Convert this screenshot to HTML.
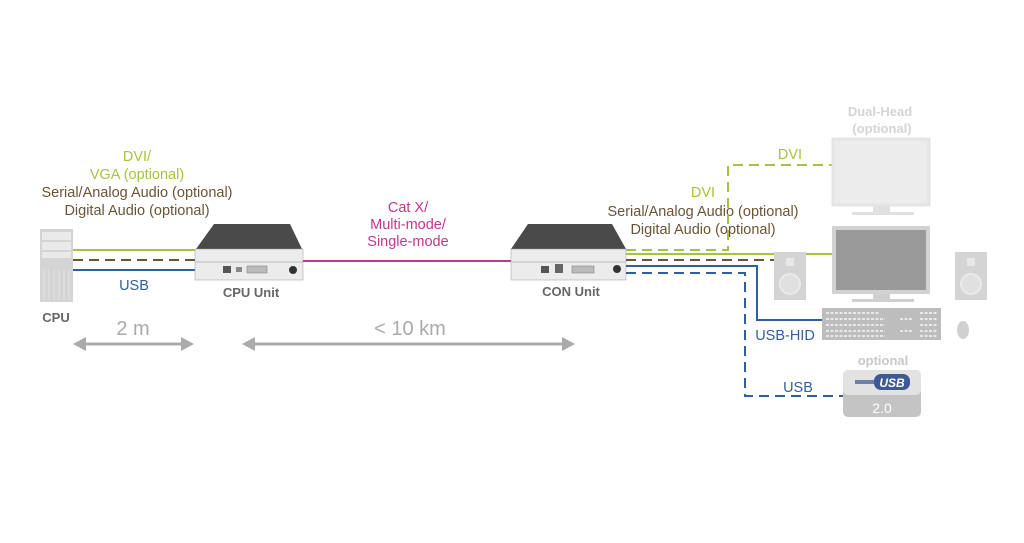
<!DOCTYPE html>
<html><head><meta charset="utf-8"><style>
html,body{margin:0;padding:0;background:#fff;}
svg{display:block;}
text{font-family:"Liberation Sans",sans-serif;}
</style></head><body>
<svg width="1024" height="543" viewBox="0 0 1024 543" xmlns="http://www.w3.org/2000/svg">
<g font-size="14.5" text-anchor="middle">
<text x="137" y="161" fill="#a4c43a">DVI/</text>
<text x="137" y="179" fill="#a4c43a">VGA (optional)</text>
<text x="137" y="197" fill="#6b5434">Serial/Analog Audio (optional)</text>
<text x="137" y="215" fill="#6b5434">Digital Audio (optional)</text>
<text x="408" y="212" fill="#c0378f">Cat X/</text>
<text x="408" y="229" fill="#c0378f">Multi-mode/</text>
<text x="408" y="246" fill="#c0378f">Single-mode</text>
<text x="703" y="197" fill="#a4c43a">DVI</text>
<text x="790" y="159" fill="#a4c43a">DVI</text>
<text x="703" y="216" fill="#6b5434">Serial/Analog Audio (optional)</text>
<text x="703" y="234" fill="#6b5434">Digital Audio (optional)</text>
<text x="134" y="290" fill="#2f5f9e">USB</text>
<text x="785" y="340" fill="#2f5f9e">USB-HID</text>
<text x="798" y="392" fill="#2f5f9e">USB</text>
</g>
<rect x="40" y="229" width="33" height="73" fill="#d4d4d4"/>
<g fill="#eaeaea"><rect x="42" y="232" width="29" height="8"/><rect x="42" y="242" width="29" height="8"/><rect x="42" y="252" width="29" height="6"/></g>
<g stroke="#e4e4e4" stroke-width="1">
<line x1="44" y1="270" x2="44" y2="300"/><line x1="49" y1="270" x2="49" y2="300"/><line x1="54" y1="270" x2="54" y2="300"/><line x1="59" y1="270" x2="59" y2="300"/><line x1="64" y1="270" x2="64" y2="300"/><line x1="69" y1="270" x2="69" y2="300"/></g>
<text x="56" y="322" font-size="13" font-weight="bold" fill="#666" text-anchor="middle">CPU</text>
<line x1="73" y1="250" x2="196" y2="250" stroke="#a4c43a" stroke-width="2"/>
<line x1="73" y1="260" x2="196" y2="260" stroke="#6b5434" stroke-width="2" stroke-dasharray="10,6"/>
<line x1="73" y1="270" x2="196" y2="270" stroke="#2f5f9e" stroke-width="2"/>
<polygon points="214,224 290,224 302,249 196,249" fill="#4a4a4a"/>
<rect x="195" y="249" width="108" height="31" fill="#ececec" stroke="#999" stroke-width="0.5"/>
<line x1="195" y1="262" x2="303" y2="262" stroke="#bbb"/>
<rect x="223" y="266" width="8" height="7" fill="#555"/><rect x="236" y="267" width="6" height="5" fill="#888"/><rect x="247" y="266" width="20" height="7" fill="#bbb" stroke="#777" stroke-width="0.5"/>
<circle cx="293" cy="270" r="4" fill="#333"/>
<text x="251" y="297" font-size="13" font-weight="bold" fill="#666" text-anchor="middle">CPU Unit</text>
<line x1="303" y1="261" x2="512" y2="261" stroke="#c0378f" stroke-width="2"/>
<polygon points="528,224 612,224 626,249 511,249" fill="#4a4a4a"/>
<rect x="511" y="249" width="115" height="31" fill="#ececec" stroke="#999" stroke-width="0.5"/>
<line x1="511" y1="262" x2="626" y2="262" stroke="#bbb"/>
<rect x="541" y="266" width="8" height="7" fill="#555"/><rect x="555" y="264" width="8" height="9" fill="#666"/><rect x="572" y="266" width="22" height="7" fill="#bbb" stroke="#777" stroke-width="0.5"/>
<circle cx="617" cy="269" r="4" fill="#333"/>
<text x="571" y="296" font-size="13" font-weight="bold" fill="#666" text-anchor="middle">CON Unit</text>
<polyline points="626,250 728,250 728,165 833,165" fill="none" stroke="#a4c43a" stroke-width="2" stroke-dasharray="10,6"/>
<line x1="626" y1="254" x2="833" y2="254" stroke="#a4c43a" stroke-width="2"/>
<line x1="626" y1="260" x2="775" y2="260" stroke="#6b5434" stroke-width="2" stroke-dasharray="10,6"/>
<polyline points="626,266 757,266 757,320 822,320" fill="none" stroke="#2f5f9e" stroke-width="2"/>
<polyline points="626,273 745,273 745,396 843,396" fill="none" stroke="#2f5f9e" stroke-width="2" stroke-dasharray="10,6"/>
<text x="880" y="116" font-size="13" font-weight="bold" fill="#d4d4d4" text-anchor="middle">Dual-Head</text>
<text x="882" y="133" font-size="13" font-weight="bold" fill="#d4d4d4" text-anchor="middle">(optional)</text>
<rect x="832" y="138" width="98" height="68" fill="#e6e6e6" stroke="#e0e0e0"/>
<rect x="835" y="141" width="92" height="62" fill="#ececec"/>
<rect x="873" y="206" width="17" height="6" fill="#e0e0e0"/><rect x="852" y="212" width="62" height="3" fill="#e0e0e0"/>
<rect x="832" y="226" width="98" height="68" fill="#d2d2d2"/>
<rect x="836" y="230" width="90" height="60" fill="#9a9a9a"/>
<rect x="873" y="294" width="17" height="5" fill="#cfcfcf"/><rect x="852" y="299" width="62" height="3" fill="#cfcfcf"/>
<g fill="#d4d4d4"><rect x="774" y="252" width="32" height="48"/><rect x="955" y="252" width="32" height="48"/></g>
<g fill="#e0e0e0" stroke="#eaeaea" stroke-width="2"><circle cx="790" cy="284" r="10"/><circle cx="971" cy="284" r="10"/></g>
<g fill="#e8e8e8"><rect x="786" y="258" width="8" height="8"/><rect x="967" y="258" width="8" height="8"/></g>
<rect x="822" y="308" width="119" height="32" fill="#bdbdbd"/>
<g stroke="#e8e8e8" stroke-width="2" stroke-dasharray="3,1.5">
<line x1="826" y1="313" x2="880" y2="313"/><line x1="826" y1="319" x2="885" y2="319"/><line x1="826" y1="325" x2="885" y2="325"/><line x1="826" y1="331" x2="885" y2="331"/><line x1="826" y1="336" x2="885" y2="336"/>
<line x1="900" y1="319" x2="912" y2="319"/><line x1="900" y1="331" x2="912" y2="331"/><line x1="920" y1="313" x2="937" y2="313"/><line x1="920" y1="319" x2="937" y2="319"/><line x1="920" y1="325" x2="937" y2="325"/><line x1="920" y1="331" x2="937" y2="331"/><line x1="920" y1="336" x2="937" y2="336"/></g>
<ellipse cx="963" cy="330" rx="6" ry="9" fill="#d0d0d0"/>
<text x="883" y="365" font-size="13" font-weight="bold" fill="#c8c8c8" text-anchor="middle">optional</text>
<rect x="843" y="370" width="78" height="47" rx="5" fill="#c4c4c4"/>
<rect x="843" y="370" width="78" height="25" rx="5" fill="#e2e2e2"/>
<rect x="855" y="380" width="20" height="4" fill="#6e80a8"/>
<rect x="874" y="374" width="36" height="16" rx="7" fill="#3e5a96"/>
<text x="892" y="387" font-size="12" font-weight="bold" font-style="italic" fill="#fff" text-anchor="middle">USB</text>
<text x="882" y="413" font-size="14" fill="#fff" text-anchor="middle">2.0</text>
<text x="133" y="335" font-size="20" fill="#aaa" text-anchor="middle">2 m</text>
<text x="410" y="335" font-size="20" fill="#aaa" text-anchor="middle">&lt; 10 km</text>
<g stroke="#aaa" stroke-width="3"><line x1="82" y1="344" x2="184" y2="344"/><line x1="252" y1="344" x2="565" y2="344"/></g>
<g fill="#aaa"><polygon points="73,344 86,337 86,351"/><polygon points="194,344 181,337 181,351"/><polygon points="242,344 255,337 255,351"/><polygon points="575,344 562,337 562,351"/></g>
</svg>
</body></html>
